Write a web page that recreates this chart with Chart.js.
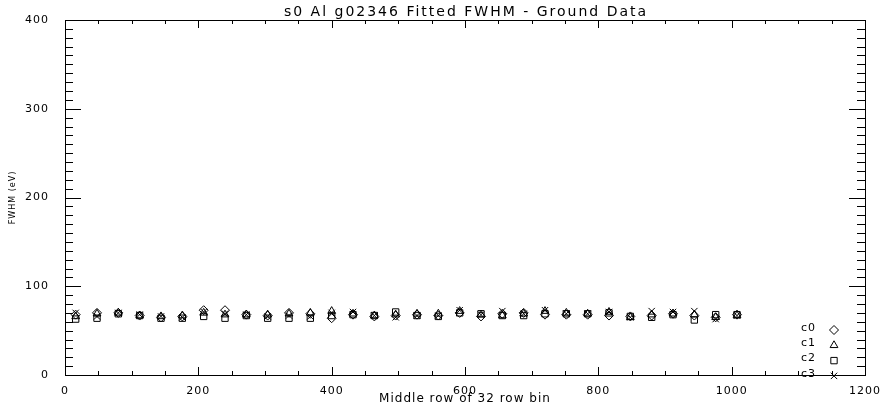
<!DOCTYPE html>
<html>
<head>
<meta charset="utf-8">
<script src="https://cdn.jsdelivr.net/npm/chart.js@4/dist/chart.umd.min.js"></script>
<style>
  html, body { margin: 0; padding: 0; background: #fff; }
  #wrap { width: 890px; height: 410px; }
</style>
</head>
<body>
<div id="wrap"><canvas id="chart"></canvas></div>
<script>
// middle row of each 32-row bin
const rows = [16, 48, 80, 112, 144, 176, 208, 240, 272, 304, 336, 368, 400, 432, 464, 496,
              528, 560, 592, 624, 656, 688, 720, 752, 784, 816, 848, 880, 912, 944, 976, 1008];
const c0 = [68, 70, 70, 67, 65, 66, 73, 73, 68, 67, 70, 69, 64, 68, 66, 67,
            68, 67, 70, 66, 69, 70, 68, 68, 68, 67, 66, 67, 69, 67, 65, 68];
const c1 = [66, 69, 70, 67, 66, 67, 70, 68, 68, 68, 69, 70, 72, 69, 67, 68,
            69, 69, 72, 68, 67, 69, 72, 70, 69, 71, 65, 68, 69, 68, 65, 67];
const c2 = [63, 64, 69, 67, 64, 64, 66, 64, 67, 64, 64, 64, 67, 68, 67, 71,
            67, 66, 70, 69, 67, 67, 69, 69, 69, 70, 66, 65, 68, 62, 68, 68];
const c3 = [70, 66, 70, 68, 66, 65, 71, 69, 68, 66, 67, 66, 70, 71, 67, 65,
            67, 67, 73, 68, 72, 69, 73, 69, 69, 71, 65, 72, 71, 72, 63, 67];
const seriesNames = ['c0', 'c1', 'c2', 'c3'];
const styles = ['rectRot', 'triangle', 'rect', 'crossRot'];
const titleText = 's0 Al g02346 Fitted FWHM - Ground Data';

const FONT = '"DejaVu Sans", sans-serif';

const pts = (vals) => rows.map((r, i) => ({ x: r, y: vals[i] }));
const all = [c0, c1, c2, c3];

// box axes with inward IDL-style ticks, title and legend
const idlFrame = {
  id: 'idlFrame',
  beforeDraw(chart) {
    chart.ctx.letterSpacing = '1px';
  },
  afterDraw(chart) {
    const ctx = chart.ctx;
    const a = chart.chartArea;
    const xs = chart.scales.x, ys = chart.scales.y;
    ctx.save();
    ctx.strokeStyle = '#000';
    ctx.lineWidth = 1;
    ctx.strokeRect(a.left + 0.5, a.top + 0.5, a.right - a.left, a.bottom - a.top);
    ctx.beginPath();
    for (let v = 0; v <= 1200; v += 50) {
      const px = Math.round(xs.getPixelForValue(v)) + 0.5;
      const len = v % 200 === 0 ? 8 : 4;
      ctx.moveTo(px, a.bottom); ctx.lineTo(px, a.bottom - len);
      ctx.moveTo(px, a.top); ctx.lineTo(px, a.top + len);
    }
    for (let v = 0; v <= 400; v += 10) {
      const py = Math.round(ys.getPixelForValue(v)) + 0.5;
      const len = v % 100 === 0 ? 16 : 8;
      ctx.moveTo(a.left, py); ctx.lineTo(a.left + len, py);
      ctx.moveTo(a.right, py); ctx.lineTo(a.right - len, py);
    }
    ctx.stroke();

    ctx.fillStyle = '#000';
    ctx.letterSpacing = '2px';
    ctx.font = '14px ' + FONT;
    ctx.textAlign = 'center';
    ctx.textBaseline = 'middle';
    ctx.fillText(titleText, (a.left + a.right) / 2 + 1, 12);

    // legend
    ctx.letterSpacing = '1px';
    ctx.font = '11px ' + FONT;
    ctx.textAlign = 'left';
    seriesNames.forEach((n, i) => {
      const y = 328 + i * 15.3;
      ctx.fillStyle = '#000';
      ctx.fillText(n, 801, y);
      ctx.fillStyle = 'rgba(0,0,0,0)';
      Chart.helpers.drawPoint(ctx, { pointStyle: styles[i], radius: 4.5, borderWidth: 1 }, 834, y + 2);
    });
    ctx.restore();
  }
};

new Chart(document.getElementById('chart'), {
  type: 'scatter',
  data: {
    datasets: all.map((vals, i) => ({
      label: seriesNames[i],
      data: pts(vals),
      pointStyle: styles[i],
      pointRadius: 4.5,
      pointBorderWidth: 1,
      pointBorderColor: '#000',
      pointBackgroundColor: 'rgba(0,0,0,0)'
    }))
  },
  options: {
    responsive: true,
    maintainAspectRatio: false,
    animation: false,
    layout: { padding: { top: 20, right: 25, left: 0, bottom: 0 } },
    plugins: { legend: { display: false }, tooltip: { enabled: false } },
    scales: {
      x: {
        type: 'linear', min: 0, max: 1200,
        grid: { display: false },
        border: { display: false },
        ticks: { stepSize: 200, color: '#000', font: { family: FONT, size: 11 }, padding: 2,
                 maxRotation: 0, callback: (v) => String(v) },
        title: { display: true, text: 'Middle row of 32 row bin', color: '#000',
                 font: { family: FONT, size: 12 }, padding: { top: 0, bottom: 4 } },
        afterFit: (s) => { s.height = 35; }
      },
      y: {
        min: 0, max: 400,
        grid: { display: false },
        border: { display: false },
        ticks: { stepSize: 100, color: '#000', font: { family: FONT, size: 11 }, padding: 8 },
        title: { display: true, text: 'FWHM (eV)', color: '#000',
                 font: { family: FONT, size: 8 }, padding: { top: 8, bottom: 0 } },
        afterFit: (s) => { s.width = 65; }
      }
    }
  },
  plugins: [idlFrame]
});
</script>
</body>
</html>
